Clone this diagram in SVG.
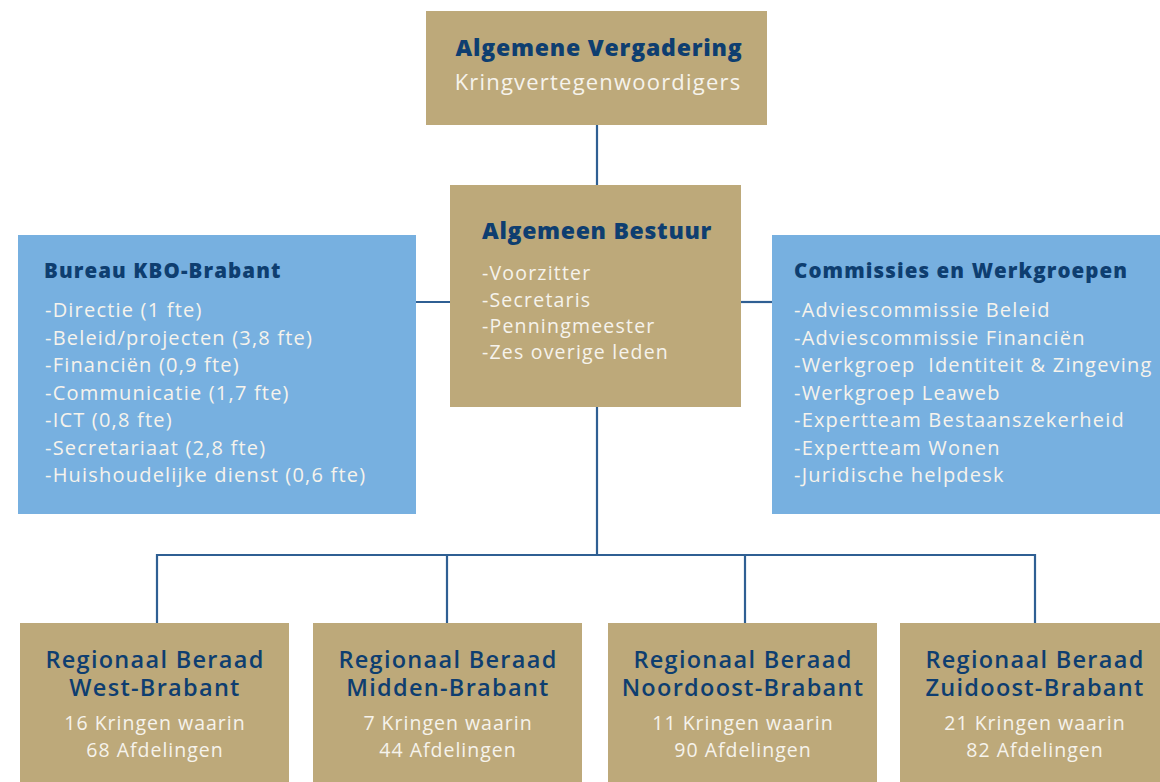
<svg xmlns="http://www.w3.org/2000/svg" width="1160" height="782" viewBox="0 0 1160 782">
<style>
.tan{fill:#bda97a}
.blue{fill:#77b0e0}
text{font-family:"Open Sans","DejaVu Sans",sans-serif}
.h{fill:#0e3e70;font-weight:800;letter-spacing:0.8px}
.hr{fill:#0e3e70;font-weight:600;letter-spacing:1.3px;font-size:23.5px;text-anchor:middle}
.w{fill:#f6f3ec;letter-spacing:1.2px}
.wc{fill:#f6f3ec;letter-spacing:1px;font-size:19.5px;text-anchor:middle}
.c{stroke:#2f5f93;stroke-width:2.2;fill:none}
</style>
<g id="connectors">
<line class="c" x1="597" y1="125" x2="597" y2="185"/>
<line class="c" x1="597" y1="407" x2="597" y2="555"/>
<line class="c" x1="416" y1="302" x2="450" y2="302"/>
<line class="c" x1="741" y1="302" x2="772" y2="302"/>
<polyline class="c" points="157,623 157,555 1035,555 1035,623"/>
<line class="c" x1="447" y1="555" x2="447" y2="623"/>
<line class="c" x1="745" y1="555" x2="745" y2="623"/>
</g>
<g id="algemene-vergadering">
<rect class="tan" x="426" y="11" width="341" height="114"/>
<text class="h" x="599" y="56" font-size="23" text-anchor="middle">Algemene Vergadering</text>
<text class="w" x="598" y="90" font-size="22" text-anchor="middle">Kringvertegenwoordigers</text>
</g>
<g id="algemeen-bestuur">
<rect class="tan" x="450" y="185" width="291" height="222"/>
<text class="h" x="482" y="239" font-size="23" style="letter-spacing:0.7px">Algemeen Bestuur</text>
<text class="w" x="482" y="280" font-size="19.5">-Voorzitter</text>
<text class="w" x="482" y="306.5" font-size="19.5">-Secretaris</text>
<text class="w" x="482" y="333" font-size="19.5">-Penningmeester</text>
<text class="w" x="482" y="359" font-size="19.5">-Zes overige leden</text>
</g>
<g id="bureau">
<rect class="blue" x="18" y="235" width="398" height="279"/>
<text class="h" x="44" y="278" font-size="20.5" style="letter-spacing:1.1px">Bureau KBO-Brabant</text>
<text class="w" x="45" y="317" font-size="20">-Directie (1 fte)</text>
<text class="w" x="45" y="344.5" font-size="20">-Beleid/projecten (3,8 fte)</text>
<text class="w" x="45" y="372" font-size="20">-Financiën (0,9 fte)</text>
<text class="w" x="45" y="399.5" font-size="20">-Communicatie (1,7 fte)</text>
<text class="w" x="45" y="427" font-size="20">-ICT (0,8 fte)</text>
<text class="w" x="45" y="454.5" font-size="20">-Secretariaat (2,8 fte)</text>
<text class="w" x="45" y="482" font-size="20">-Huishoudelijke dienst (0,6 fte)</text>
</g>
<g id="commissies">
<rect class="blue" x="772" y="235" width="390" height="279"/>
<text class="h" x="794" y="278" font-size="20.5" style="letter-spacing:1.1px">Commissies en Werkgroepen</text>
<text class="w" x="794" y="317" font-size="20">-Adviescommissie Beleid</text>
<text class="w" x="794" y="344.5" font-size="20">-Adviescommissie Financiën</text>
<text class="w" x="794" y="372" font-size="20" xml:space="preserve">-Werkgroep  Identiteit &amp; Zingeving</text>
<text class="w" x="794" y="399.5" font-size="20">-Werkgroep Leaweb</text>
<text class="w" x="794" y="427" font-size="20">-Expertteam Bestaanszekerheid</text>
<text class="w" x="794" y="454.5" font-size="20">-Expertteam Wonen</text>
<text class="w" x="794" y="482" font-size="20">-Juridische helpdesk</text>
</g>
<g id="rb-west">
<rect class="tan" x="20" y="623" width="269" height="160"/>
<text class="hr" x="155" y="668">Regionaal Beraad</text>
<text class="hr" x="155" y="696">West-Brabant</text>
<text class="wc" x="155" y="730">16 Kringen waarin</text>
<text class="wc" x="155" y="757">68 Afdelingen</text>
</g>
<g id="rb-midden">
<rect class="tan" x="313" y="623" width="269" height="160"/>
<text class="hr" x="448" y="668">Regionaal Beraad</text>
<text class="hr" x="448" y="696">Midden-Brabant</text>
<text class="wc" x="448" y="730">7 Kringen waarin</text>
<text class="wc" x="448" y="757">44 Afdelingen</text>
</g>
<g id="rb-noordoost">
<rect class="tan" x="608" y="623" width="269" height="160"/>
<text class="hr" x="743" y="668">Regionaal Beraad</text>
<text class="hr" x="743" y="696">Noordoost-Brabant</text>
<text class="wc" x="743" y="730">11 Kringen waarin</text>
<text class="wc" x="743" y="757">90 Afdelingen</text>
</g>
<g id="rb-zuidoost">
<rect class="tan" x="900" y="623" width="270" height="160"/>
<text class="hr" x="1035" y="668">Regionaal Beraad</text>
<text class="hr" x="1035" y="696">Zuidoost-Brabant</text>
<text class="wc" x="1035" y="730">21 Kringen waarin</text>
<text class="wc" x="1035" y="757">82 Afdelingen</text>
</g>
</svg>
